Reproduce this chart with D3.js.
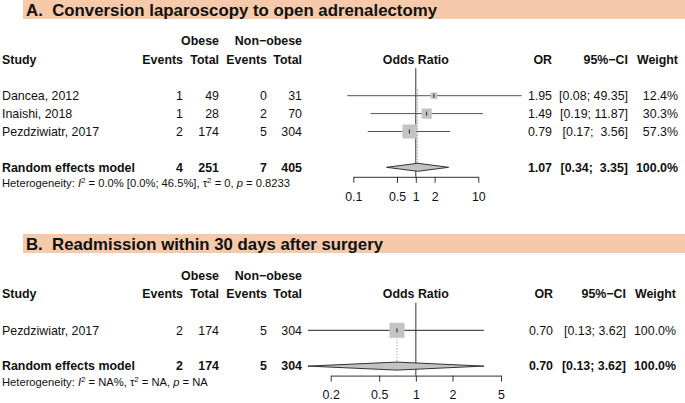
<!DOCTYPE html>
<html><head><meta charset="utf-8">
<script src="https://cdn.jsdelivr.net/npm/d3@7"></script>
<style>
body{margin:0;background:#fff}
text{font-family:"Liberation Sans",Arial,Helvetica,sans-serif;fill:#111;white-space:pre}
</style>
</head><body>
<svg id="chart" width="685" height="403"></svg>
<script>
// ---------- Data: panel A ----------
const titleA = "A.  Conversion laparoscopy to open adrenalectomy";
const studiesA = ["Dancea, 2012", "Inaishi, 2018", "Pezdziwiatr, 2017"];
const eventsObeseA = [1, 1, 2];
const totalObeseA = [49, 28, 174];
const eventsNonA = [0, 2, 5];
const totalNonA = [31, 70, 304];
const orA = [1.95, 1.49, 0.79];
const lowerA = [0.08, 0.19, 0.17];
const upperA = [49.35, 11.87, 3.56];
const weightA = [12.4, 30.3, 57.3];
const summaryCountsA = [4, 251, 7, 405];
const summaryEffectA = [1.07, 0.34, 3.35];   // OR, lower, upper
const hetA = ["0.0%", "[0.0%; 46.5%]", "0", "0.8233"];
const ticksA = [0.1, 0.5, 1, 2, 10];

// ---------- Data: panel B ----------
const titleB = "B.  Readmission within 30 days after surgery";
const studiesB = ["Pezdziwiatr, 2017"];
const eventsObeseB = [2];
const totalObeseB = [174];
const eventsNonB = [5];
const totalNonB = [304];
const orB = [0.70];
const lowerB = [0.13];
const upperB = [3.62];
const weightB = [100.0];
const summaryCountsB = [2, 174, 5, 304];
const summaryEffectB = [0.70, 0.13, 3.62];
const hetB = ["NA%", "", "NA", "NA"];
const ticksB = [0.2, 0.5, 1, 2, 5];

const svg = d3.select("#chart");
const FS = 12.4;

function panel(cfg) {
  const g = svg.append("g");
  const n = cfg.studies.length;
  // title bar
  g.append("rect").attr("x", 23).attr("y", cfg.barY).attr("width", 662).attr("height", 19)
    .attr("fill", "#f5c9aa");
  g.append("text").attr("x", 26).attr("y", cfg.barY + 15.5).attr("font-size", 16.4)
    .attr("font-weight", "bold").attr("textLength", cfg.titleLen).attr("lengthAdjust", "spacingAndGlyphs")
    .text(cfg.title);

  const rowY = d3.scaleLinear().domain([0, 1]).range([cfg.row0, cfg.row0 + 17.9]);
  const sumY = rowY(n + 1);
  const x = d3.scaleLog().domain(cfg.domain).range(cfg.range);

  // headers
  const hy1 = cfg.row0 - 50.5, hy2 = cfg.row0 - 32;
  const colR = [183, 219, 267, 302];
  g.append("text").attr("x", colR[1]).attr("y", hy1).attr("text-anchor", "end")
    .attr("font-size", FS).attr("font-weight", "bold").text("Obese");
  g.append("text").attr("x", colR[3]).attr("y", hy1).attr("text-anchor", "end")
    .attr("font-size", FS).attr("font-weight", "bold").text("Non\u2212obese");
  g.append("text").attr("x", 2).attr("y", hy2).attr("font-size", FS).attr("font-weight", "bold").text("Study");
  ["Events", "Total", "Events", "Total"].forEach((h, i) => {
    g.append("text").attr("x", colR[i]).attr("y", hy2).attr("text-anchor", "end")
      .attr("font-size", FS).attr("font-weight", "bold").text(h);
  });
  g.append("text").attr("x", x(1)).attr("y", hy2).attr("text-anchor", "middle")
    .attr("font-size", FS).attr("font-weight", "bold").text("Odds Ratio");
  const rc = cfg.rightCols;
  [["OR", rc[0]], ["95%\u2212CI", rc[1]], ["Weight", rc[2]]].forEach(([t, xx]) => {
    g.append("text").attr("x", xx).attr("y", hy2).attr("text-anchor", "end")
      .attr("font-size", FS).attr("font-weight", "bold").text(t);
  });

  // formatting of CI
  const allU = cfg.upper.concat([cfg.sumEff[2]]).map(v => v.toFixed(2));
  const allL = cfg.lower.concat([cfg.sumEff[1]]).map(v => v.toFixed(2));
  const wU = d3.max(allU, s => s.length), wL = d3.max(allL, s => s.length);
  const ci = (l, u) => "[" + l.toFixed(2).padStart(wL) + "; " + u.toFixed(2).padStart(wU) + "]";

  // study rows text
  cfg.studies.forEach((s, i) => {
    const y = rowY(i) + 4.3;
    g.append("text").attr("x", 2).attr("y", y).attr("font-size", FS).text(s);
    [cfg.eo[i], cfg.to[i], cfg.en[i], cfg.tn[i]].forEach((v, j) => {
      g.append("text").attr("x", colR[j]).attr("y", y).attr("text-anchor", "end").attr("font-size", FS).text(v);
    });
    g.append("text").attr("x", rc[0]).attr("y", y).attr("text-anchor", "end").attr("font-size", FS).text(cfg.or[i].toFixed(2));
    g.append("text").attr("x", rc[1]).attr("y", y).attr("text-anchor", "end").attr("font-size", FS).text(ci(cfg.lower[i], cfg.upper[i]));
    g.append("text").attr("x", rc[2]).attr("y", y).attr("text-anchor", "end").attr("font-size", FS).text(cfg.weight[i].toFixed(1) + "%");
  });
  // summary row text
  const sy = sumY + 4.3;
  g.append("text").attr("x", 2).attr("y", sy).attr("font-size", FS).attr("font-weight", "bold").text("Random effects model");
  cfg.sumCounts.forEach((v, j) => {
    g.append("text").attr("x", colR[j]).attr("y", sy).attr("text-anchor", "end").attr("font-size", FS).attr("font-weight", "bold").text(v);
  });
  g.append("text").attr("x", rc[0]).attr("y", sy).attr("text-anchor", "end").attr("font-size", FS).attr("font-weight", "bold").text(cfg.sumEff[0].toFixed(2));
  g.append("text").attr("x", rc[1]).attr("y", sy).attr("text-anchor", "end").attr("font-size", FS).attr("font-weight", "bold").text(ci(cfg.sumEff[1], cfg.sumEff[2]));
  g.append("text").attr("x", rc[2]).attr("y", sy).attr("text-anchor", "end").attr("font-size", FS).attr("font-weight", "bold").text("100.0%");

  // heterogeneity
  const ht = g.append("text").attr("x", 2).attr("y", sumY + 20).attr("font-size", 11.2);
  ht.append("tspan").text("Heterogeneity: ");
  ht.append("tspan").attr("font-style", "italic").text("I");
  ht.append("tspan").attr("dy", -4.5).attr("font-size", 8).text("2");
  ht.append("tspan").attr("dy", 4.5).text(" = " + cfg.het[0] + (cfg.het[1] ? " " + cfg.het[1] : "") + ", \u03c4");
  ht.append("tspan").attr("dy", -4.5).attr("font-size", 8).text("2");
  ht.append("tspan").attr("dy", 4.5).text(" = " + cfg.het[2] + ", ");
  ht.append("tspan").attr("font-style", "italic").text("p");
  ht.append("tspan").text(" = " + cfg.het[3]);

  // plot: reference line at 1
  const lineCol = cfg.lineCol;
  g.append("line").attr("x1", x(1)).attr("x2", x(1)).attr("y1", cfg.row0 - 27.5).attr("y2", sumY + 9.5)
    .attr("stroke", "#333").attr("stroke-width", 1);
  // dotted summary line
  g.append("line").attr("x1", x(cfg.sumEff[0])).attr("x2", x(cfg.sumEff[0]))
    .attr("y1", rowY(0) - 6).attr("y2", sumY - 4)
    .attr("stroke", "#888").attr("stroke-width", 1).attr("stroke-dasharray", "1,2");

  // CI lines
  g.selectAll(".ci").data(cfg.or).enter().append("line")
    .attr("x1", (d, i) => x(cfg.lower[i])).attr("x2", (d, i) => x(cfg.upper[i]))
    .attr("y1", (d, i) => rowY(i)).attr("y2", (d, i) => rowY(i))
    .attr("stroke", lineCol).attr("stroke-width", 1);
  // squares
  const maxW = d3.max(cfg.weight);
  const side = d3.scaleSqrt().domain([0, maxW]).range([0, cfg.maxSide]);
  g.selectAll(".sq").data(cfg.or).enter().append("rect")
    .attr("x", (d, i) => x(d) - side(cfg.weight[i]) / 2)
    .attr("y", (d, i) => rowY(i) - side(cfg.weight[i]) / 2)
    .attr("width", (d, i) => side(cfg.weight[i]))
    .attr("height", (d, i) => side(cfg.weight[i]))
    .attr("fill", "#c3c3c3");
  // point marks
  g.selectAll(".pt").data(cfg.or).enter().append("line")
    .attr("x1", d => x(d)).attr("x2", d => x(d))
    .attr("y1", (d, i) => rowY(i) - 2).attr("y2", (d, i) => rowY(i) + 2)
    .attr("stroke", "#222").attr("stroke-width", 1);
  // diamond
  const [m, lo, hi] = cfg.sumEff;
  g.append("path")
    .attr("d", `M${x(lo)},${sumY}L${x(m)},${sumY - 4}L${x(hi)},${sumY}L${x(m)},${sumY + 4}Z`)
    .attr("fill", "#c3c3c3").attr("stroke", "#333").attr("stroke-width", 1);

  // axis
  const axis = d3.axisBottom(x).tickValues(cfg.ticks).tickSize(6).tickSizeOuter(0).tickPadding(9)
    .tickFormat(d => String(d));
  const ag = g.append("g").attr("transform", `translate(0,${sumY + 9.5})`).call(axis);
  ag.select(".domain").attr("stroke", "#333");
  ag.selectAll(".tick line").attr("stroke", "#333");
  ag.selectAll(".tick text").attr("font-size", FS).attr("fill", "#111")
    .style("font-family", "'Liberation Sans',Arial,sans-serif");
}

panel({
  title: titleA, titleLen: 411, barY: 0, row0: 95.7,
  studies: studiesA, eo: eventsObeseA, to: totalObeseA, en: eventsNonA, tn: totalNonA,
  or: orA, lower: lowerA, upper: upperA, weight: weightA,
  sumCounts: summaryCountsA, sumEff: summaryEffectA, het: hetA, ticks: ticksA,
  domain: [0.1, 10], range: [353.3, 478.3], rightCols: [552, 628, 678], maxSide: 14, lineCol: "#555"
});
panel({
  title: titleB, titleLen: 357, barY: 234, row0: 330.3,
  studies: studiesB, eo: eventsObeseB, to: totalObeseB, en: eventsNonB, tn: totalNonB,
  or: orB, lower: lowerB, upper: upperB, weight: weightB,
  sumCounts: summaryCountsB, sumEff: summaryEffectB, het: hetB, ticks: ticksB,
  domain: [0.2, 5], range: [330.7, 501], rightCols: [553, 626, 676], maxSide: 15, lineCol: "#222"
});
</script>
</body></html>
